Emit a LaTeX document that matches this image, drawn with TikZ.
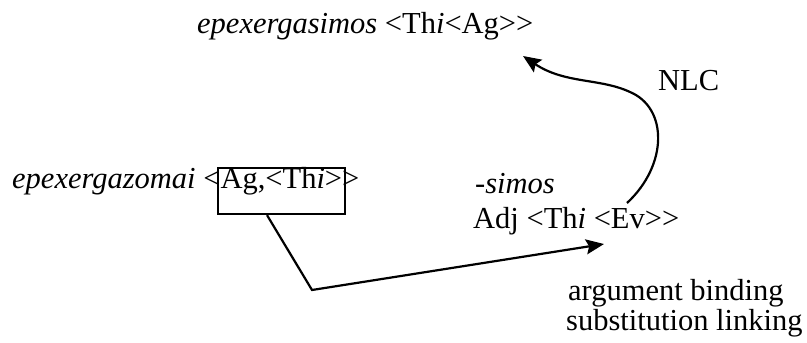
\documentclass[tikz,border=0pt]{standalone}
\usepackage{fontspec}
\setmainfont{Liberation Serif}
\usepackage{tikz}
\usetikzlibrary{arrows.meta}

\begin{document}
\begin{tikzpicture}[x=1pt,y=-1pt,>=Stealth,
  lbl/.style={anchor=base west,inner sep=0pt,font=\fontsize{30.5}{36}\selectfont},
  link/.style={draw=black,line width=2.2pt,-{Stealth[length=18pt,width=15pt,inset=3pt]}}]
\useasboundingbox (0,0) rectangle (807,343);
\node[lbl] (adjform) at (197,33) {\textit{epexergasimos} <Th\textit{i}<Ag>{}>};
\node[lbl] (nlc) at (658,90) {NLC};
\node[lbl] (verb) at (12,188) {\textit{epexergazomai} <Ag,<Th\textit{i}>{}>};
\node[draw=black,line width=2.2pt,minimum width=127pt,minimum height=46pt,inner sep=0pt] (argbox) at (281.5,191) {};
\node[lbl] (suffix) at (475,193) {\textit{-simos}};
\node[lbl] (adj) at (473,228) {Adj <Th\textit{i} <Ev>{}>};
\node[lbl] (bind) at (568,300) {argument binding};
\node[lbl] (subst) at (566,330) {substitution linking};
\coordinate (bend) at (312,290);
\coordinate (bindend) at (604,244);
\coordinate (nlcfrom) at (627,203);
\coordinate (nlcto) at (523,56);
\draw[link,line join=miter] ([xshift=-14.5pt]argbox.south) -- (bend) -- (bindend);
\draw[link] (nlcfrom) .. controls (668,165) and (668,108) .. (630,92)
  .. controls (600,78) and (565,84) .. (nlcto);
\end{tikzpicture}
\end{document}
